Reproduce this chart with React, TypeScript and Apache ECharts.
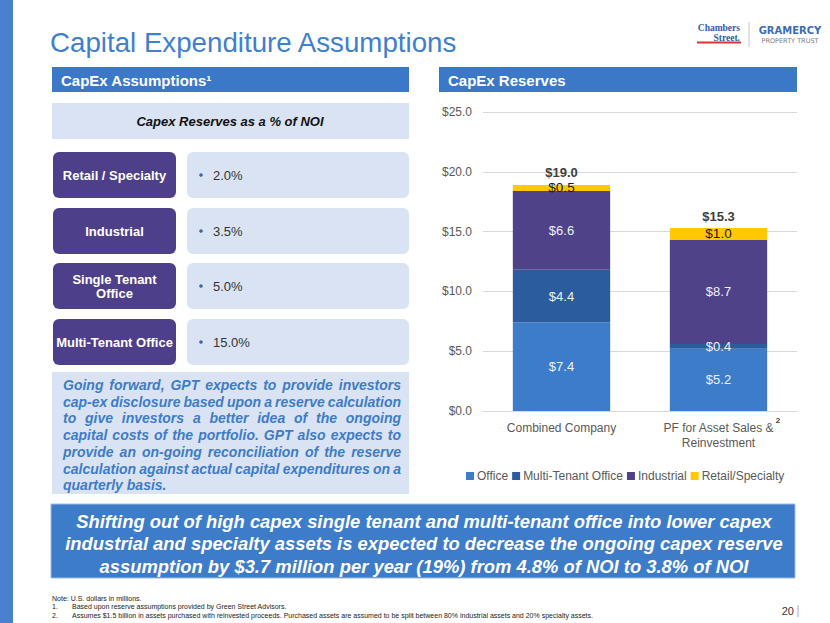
import React, { useEffect, useRef } from "react";
import * as echarts from "echarts";

const categories = ["Combined Company", "PF for Asset Sales &\nReinvestment"];
const seriesNames = ["Office", "Multi-Tenant Office", "Industrial", "Retail/Specialty"];
const office = [7.4, 5.2];
const multiTenant = [4.4, 0.4];
const industrial = [6.6, 8.7];
const retail = [0.5, 1.0];
const totals = [19.0, 15.3];
const yTicks = { min: 0, max: 25, interval: 5 };

const rowLabels = ["Retail / Specialty", "Industrial", "Single Tenant\nOffice", "Multi-Tenant Office"];
const rowValues = ["2.0%", "3.5%", "5.0%", "15.0%"];

const paraLines = [
  "Going forward, GPT expects to provide investors",
  "cap-ex disclosure based upon a reserve calculation",
  "to give investors a better idea of the ongoing",
  "capital costs of the portfolio.  GPT also expects to",
  "provide an on-going reconciliation of the reserve",
  "calculation against actual capital expenditures on a",
  "quarterly basis.",
];
const bannerLines = [
  "Shifting out of high capex single tenant and multi-tenant office into lower capex",
  "industrial and specialty assets is expected to decrease the ongoing capex reserve",
  "assumption by $3.7 million per year (19%) from 4.8% of NOI to 3.8% of NOI",
];
const notes = [
  ["", "Note: U.S. dollars in millions."],
  ["1.", "Based upon reserve assumptions provided by Green Street Advisors."],
  ["2.", "Assumes $1.5 billion in assets purchased with reinvested proceeds. Purchased assets are assumed to be split between 80% industrial assets and 20% specialty assets."],
];

const FF = "'Liberation Sans', Arial, sans-serif";
const BLUE = "#3d7cc9";
const HEADER = "#3b78c8";
const LIGHT = "#dae3f3";
const PURPLE = "#4e3f8a";
const colors = ["#3d7cc9", "#2b5c9e", "#4f4289", "#ffc800"];

function txt(x: number, y: number, text: string, font: string, fill: string, align = "left", extra: any = {}) {
  return {
    type: "text",
    x,
    y,
    style: { text, font, fill, textAlign: align, textVerticalAlign: "middle", ...extra },
  };
}

export default function App() {
  const ref = useRef<HTMLDivElement>(null);
  useEffect(() => {
    if (!ref.current) return;
    const chart = echarts.init(ref.current, null, { renderer: "svg" });

    const g: any[] = [];
    // left stripe
    g.push({ type: "rect", shape: { x: 0, y: 0, width: 13, height: 623 }, style: { fill: "#4a80d0" } });
    // title
    g.push(txt(50, 42, "Capital Expenditure Assumptions", `27.7px ${FF}`, "#3f7fcd"));
    // logo
    g.push(txt(740, 27.5, "Chambers", `bold 9.5px 'Liberation Serif', serif`, "#2b5ea8", "right"));
    g.push(txt(740, 37.5, "Street.", `bold 9.5px 'Liberation Serif', serif`, "#2b5ea8", "right"));
    g.push({ type: "rect", shape: { x: 697, y: 41.5, width: 44, height: 2 }, style: { fill: "#e0303a" } });
    g.push({ type: "line", shape: { x1: 749, y1: 22, x2: 749, y2: 47 }, style: { stroke: "#c8c8c8", lineWidth: 1 } });
    g.push(txt(790, 30.5, "GRAMERCY", `bold 10px 'DejaVu Sans', sans-serif`, "#3a6db5", "center"));
    g.push(txt(790, 40.5, "PROPERTY TRUST", `6.5px 'DejaVu Sans', sans-serif`, "#7a7a7a", "center"));

    // header bars
    g.push({ type: "rect", shape: { x: 52, y: 67, width: 357, height: 25 }, style: { fill: HEADER } });
    g.push(txt(61, 80, "CapEx Assumptions\u00B9", `bold 15px ${FF}`, "#ffffff"));
    g.push({ type: "rect", shape: { x: 439, y: 67, width: 358, height: 25 }, style: { fill: HEADER } });
    g.push(txt(448, 80, "CapEx Reserves", `bold 15px ${FF}`, "#ffffff"));

    // capex box
    g.push({ type: "rect", shape: { x: 52, y: 103, width: 357, height: 36 }, style: { fill: LIGHT } });
    g.push(txt(230, 121, "Capex Reserves as a % of NOI", `italic bold 13px ${FF}`, "#111111", "center"));

    const rowTops = [152, 208, 263, 319];
    rowLabels.forEach((lab, i) => {
      const top = rowTops[i];
      g.push({ type: "rect", shape: { x: 53, y: top, width: 123, height: 46, r: 6 }, style: { fill: PURPLE } });
      g.push({ type: "rect", shape: { x: 187, y: top, width: 222, height: 46, r: 6 }, style: { fill: LIGHT } });
      g.push(txt(114.5, top + 23, lab, `bold 13px ${FF}`, "#ffffff", "center", { lineHeight: 14 }));
      g.push({ type: "circle", shape: { cx: 201, cy: top + 23, r: 1.8 }, style: { fill: "#3a66ad" } });
      g.push(txt(213, top + 23, rowValues[i], `13px ${FF}`, "#333333"));
    });

    // paragraph box
    g.push({ type: "rect", shape: { x: 52, y: 372, width: 357, height: 122 }, style: { fill: LIGHT } });
    const paraFont = `italic bold 14px ${FF}`;
    const ctx = document.createElement("canvas").getContext("2d")!;
    ctx.font = paraFont;
    const px0 = 63, px1 = 401;
    paraLines.forEach((line, i) => {
      const y = 385 + i * 16.7;
      if (i === paraLines.length - 1) {
        g.push(txt(px0, y, line, paraFont, BLUE));
        return;
      }
      const words = line.split(/\s+/);
      const widths = words.map((w) => ctx.measureText(w).width);
      const total = widths.reduce((a, b) => a + b, 0);
      const gap = (px1 - px0 - total) / (words.length - 1);
      let x = px0;
      words.forEach((w, k) => {
        g.push(txt(x, y, w, paraFont, BLUE));
        x += widths[k] + gap;
      });
    });

    // banner
    g.push({ type: "rect", shape: { x: 51, y: 504, width: 744, height: 74 }, style: { fill: BLUE, stroke: "#9fbbe3", lineWidth: 1 } });
    bannerLines.forEach((line, i) => {
      g.push(txt(424, 521 + i * 22.5, line, `italic bold 18.4px ${FF}`, "#ffffff", "center"));
    });

    // notes
    notes.forEach(([num, t], i) => {
      const y = 598 + i * 8.5;
      if (num) {
        g.push(txt(52, y, num, `7px ${FF}`, "#222222"));
        g.push(txt(72, y, t, `7px ${FF}`, "#222222"));
      } else {
        g.push(txt(52, y, t, `7px ${FF}`, "#222222"));
      }
    });
    g.push(txt(794, 611, "20", `11px ${FF}`, "#333333", "right"));
    g.push({ type: "line", shape: { x1: 798, y1: 605, x2: 798, y2: 617 }, style: { stroke: "#8fb0e0", lineWidth: 1 } });

    // superscript 2 on category label
    g.push(txt(778, 420, "2", `bold 8px ${FF}`, "#404040", "center"));

    const inner = { show: true, position: "inside", color: "#f0f0f5", fontSize: 13, fontFamily: FF, formatter: (p: any) => "$" + p.value.toFixed(1) };
    const mk = (name: string, data: number[], color: string, label: any) => ({
      name,
      type: "bar",
      stack: "total",
      barWidth: "62%",
      data,
      itemStyle: { color },
      label,
      emphasis: { disabled: true },
    });

    chart.setOption({
      animation: false,
      textStyle: { fontFamily: FF },
      grid: { left: 483, right: 33, top: 112, bottom: 212 },
      legend: {
        data: seriesNames,
        left: 461,
        top: 465,
        itemWidth: 8,
        itemHeight: 8,
        itemGap: 4,
        icon: "rect",
        textStyle: { color: "#595959", fontSize: 12, fontFamily: FF, padding: [0, 0, 0, -2] },
        selectedMode: false,
      },
      xAxis: {
        type: "category",
        data: categories,
        axisLine: { lineStyle: { color: "#d9d9d9" } },
        axisTick: { show: false },
        axisLabel: { color: "#595959", fontSize: 12, lineHeight: 15, margin: 9 },
      },
      yAxis: {
        type: "value",
        min: yTicks.min,
        max: yTicks.max,
        interval: yTicks.interval,
        axisLine: { show: false },
        axisTick: { show: false },
        splitLine: { lineStyle: { color: "#d9d9d9" } },
        axisLabel: { color: "#595959", fontSize: 12, margin: 11, formatter: (v: number) => "$" + v.toFixed(1) },
      },
      series: [
        mk(seriesNames[0], office, colors[0], inner),
        mk(seriesNames[1], multiTenant, colors[1], inner),
        mk(seriesNames[2], industrial, colors[2], inner),
        mk(seriesNames[3], retail, colors[3], { ...inner, color: "#1a1a1a", fontSize: 13.5 }),
        {
          name: "Total",
          type: "bar",
          barWidth: "62%",
          barGap: "-100%",
          data: totals,
          silent: true,
          z: 1,
          itemStyle: { color: "rgba(0,0,0,0)" },
          label: {
            show: true,
            position: "top",
            distance: 5,
            color: "#404040",
            fontSize: 13,
            fontWeight: "bold",
            fontFamily: FF,
            formatter: (p: any) => "$" + p.value.toFixed(1),
          },
        },
      ],
      graphic: g,
    });
    return () => chart.dispose();
  }, []);
  return <div ref={ref} style={{ position: "fixed", left: 0, top: 0, width: 830, height: 623, background: "#ffffff" }} />;
}
